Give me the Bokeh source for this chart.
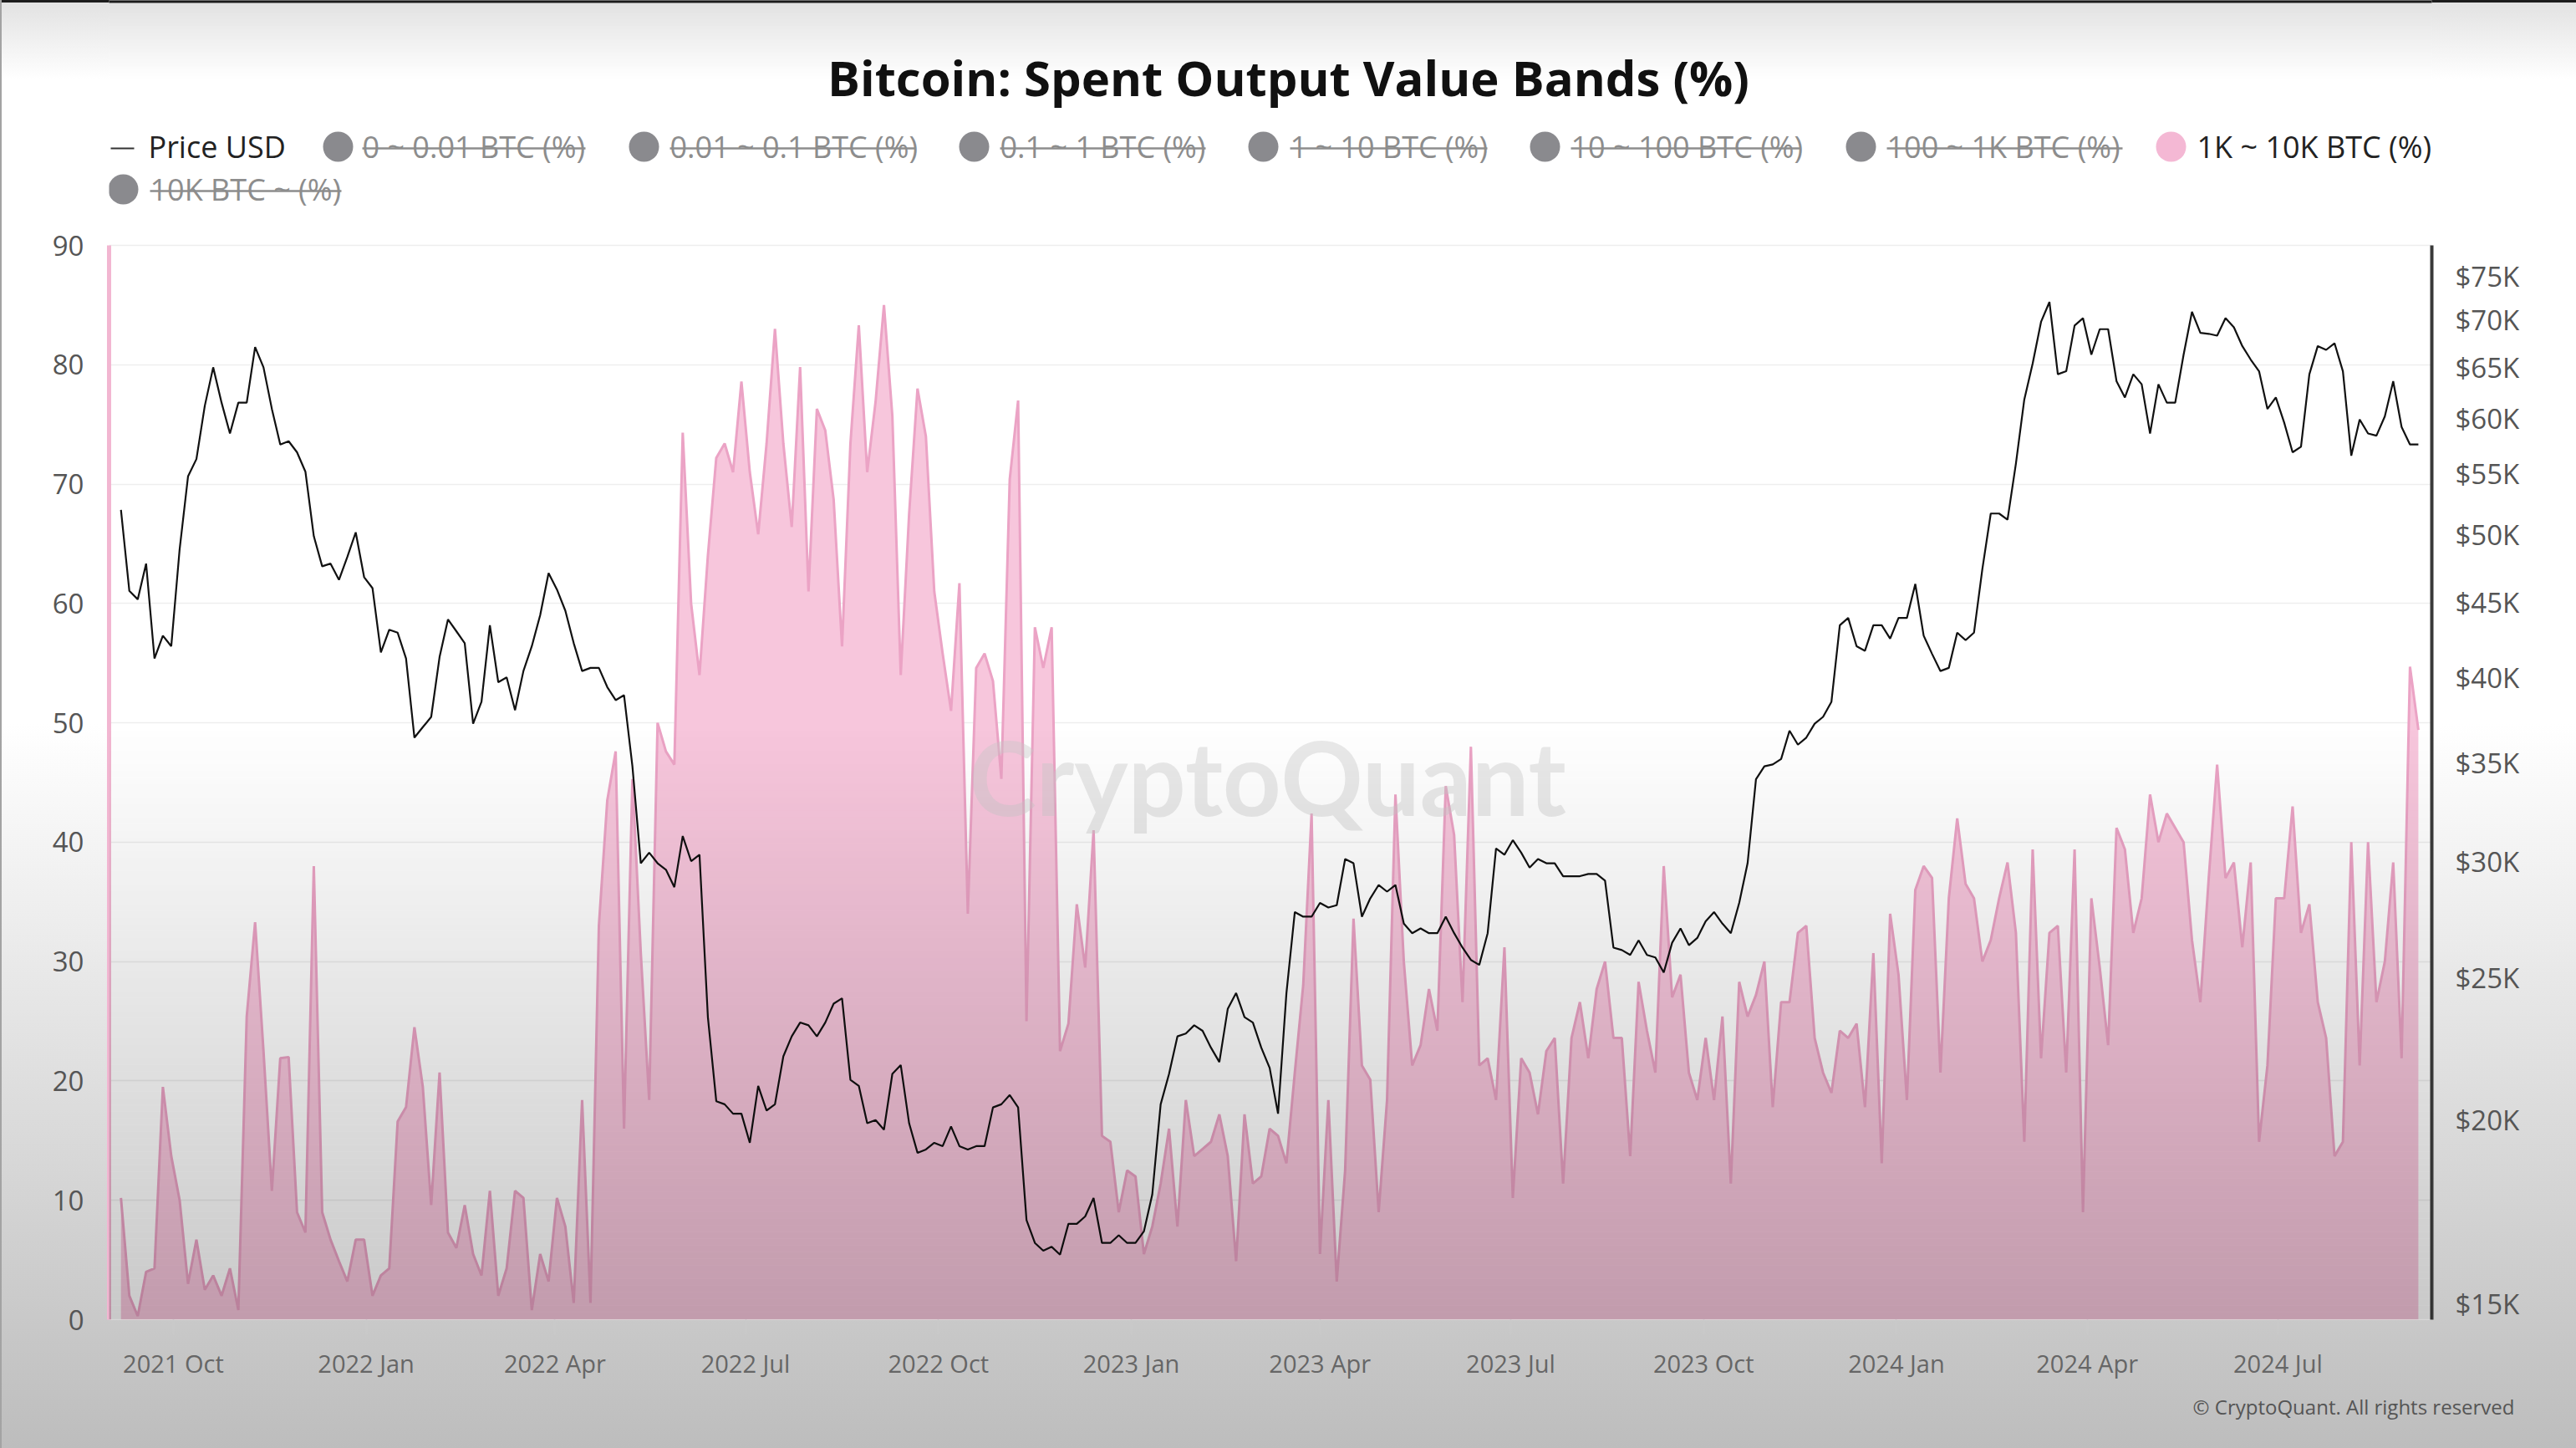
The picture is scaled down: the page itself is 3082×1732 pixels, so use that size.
import math
import pandas as pd
from datetime import datetime
from bokeh.plotting import figure
from bokeh.models import (Range1d, LogAxis, LogScale, FixedTicker, CustomJSTickFormatter,
                          DatetimeTickFormatter, BoxAnnotation, Title)
from bokeh.core.properties import value
from bokeh.embed import file_html
from bokeh.resources import INLINE

# ---------------- data (4-day sampling from 2021-09-06) ----------------
start_date = "2021-09-06"
step = "4D"

band_1k_10k = [
    10.2, 2, 0.3, 4, 4.3, 19.5, 13.7, 10, 3, 6.7,
    2.5, 3.7, 2, 4.3, 0.8, 25.4, 33.3, 22.5, 10.8, 21.9,
    22, 9, 7.3, 38, 9, 6.7, 4.9, 3.2, 6.7, 6.7,
    2, 3.7, 4.3, 16.6, 17.8, 24.5, 19.5, 9.6, 20.7, 7.3,
    6, 9.6, 5.5, 3.7, 10.8,
    2, 4.3, 10.8, 10.2, 0.8, 5.5, 3.2, 10.2, 7.8, 1.4,
    18.4, 1.4, 33, 43.5, 47.6, 16, 45.3, 30.7, 18.4, 50,
    47.6, 46.5, 74.3, 60, 54, 64, 72.2, 73.4, 71, 78.6,
    71, 65.8, 73.4, 83, 73.4, 66.4, 79.8, 61, 76.3, 74.5,
    68.7, 56.4, 73.4, 83.3, 71, 76.9, 85,
    75.7, 54, 67.5, 78, 74, 61, 55.8, 51, 61.7, 34,
    54.6, 55.8, 53.5, 45.3, 70.4, 77, 25, 58, 54.6, 58,
    22.5, 24.8, 34.8, 29.5, 41, 15.4, 14.9, 9, 12.5, 12,
    5.5, 7.8, 11.4, 16, 7.8, 18.4, 13.7, 14.3, 14.9, 17.2,
    13.7, 4.9, 17.2, 11.4, 12, 16,
    15.4, 13.1, 20.7, 28, 42.4, 5.5, 18.4, 3.2, 12.5, 33.6,
    21.3, 20.1, 9, 18.4, 44, 30, 21.3, 23, 27.7, 24.2,
    44.7, 40.6, 26.6, 48, 21.3, 21.9, 18.4, 31.2, 10.2, 21.9,
    20.7, 17.2, 22.5, 23.6, 11.4, 23.6, 26.6, 21.9, 27.7, 30,
    23.6, 23.6, 13.7, 28.3, 24.2, 20.7,
    38, 27, 28.9, 20.7, 18.4, 23.6, 18.4, 25.4, 11.4, 28.3,
    25.4, 27.2, 30, 17.8, 26.6, 26.6, 32.4, 33, 23.6, 20.7,
    19, 24.2, 23.6, 24.8, 17.8, 30.7, 13.1, 34, 28.9, 18.4,
    36, 38, 37, 20.7, 35.3, 42, 36.5, 35.3, 30, 31.8,
    35.3, 38.3, 32.4, 14.9, 39.4, 21.9, 32.4,
    33, 20.7, 39.4, 9, 35.3, 29.5, 23, 41.2, 39.4, 32.4,
    35.3, 44, 40, 42.4, 41.2, 40, 31.8, 26.6, 37, 46.5,
    37, 38.3, 31.2, 38.3, 14.9, 21.3, 35.3, 35.3, 43, 32.4,
    34.8, 26.6, 23.6, 13.7, 14.9, 40, 21.3, 40, 26.6, 30,
    38.3, 21.9, 54.7, 49.4,
]

price_usd_k = [
    52.0, 45.8, 45.2, 47.8, 41.2, 42.7, 42.0, 48.9, 54.8, 56.3,
    61.2, 65.0, 61.5, 58.6, 61.5, 61.5, 67.1, 65.0, 60.9, 57.6,
    57.9, 56.9, 55.2, 49.9, 47.6, 47.8, 46.6, 48.3, 50.2, 46.8,
    46.0, 41.6, 43.1, 42.9, 41.2, 36.4, 37.0, 37.6, 41.3, 43.8,
    43.0, 42.2, 37.2, 38.5, 43.4,
    39.7, 40.0, 38.0, 40.4, 42.0, 44.1, 47.1, 45.9, 44.4, 42.2,
    40.4, 40.6, 40.6, 39.4, 38.6, 38.9, 34.8, 29.9, 30.4, 29.9,
    29.6, 28.8, 31.2, 30.0, 30.3, 23.5, 20.6, 20.5, 20.2, 20.2,
    19.3, 21.1, 20.3, 20.5, 22.1, 22.8, 23.3, 23.2, 22.8, 23.3,
    24.0, 24.2, 21.3, 21.1, 19.9, 20.0, 19.7,
    21.5, 21.8, 19.9, 19.0, 19.1, 19.3, 19.2, 19.8, 19.2, 19.1,
    19.2, 19.2, 20.4, 20.5, 20.8, 20.4, 17.1, 16.5, 16.3, 16.4,
    16.2, 17.0, 17.0, 17.2, 17.7, 16.5, 16.5, 16.7, 16.5, 16.5,
    16.8, 17.8, 20.5, 21.5, 22.8, 22.9, 23.2, 23.0, 22.4, 21.9,
    23.8, 24.4, 23.5, 23.3, 22.4, 21.7,
    20.2, 24.4, 27.7, 27.5, 27.5, 28.1, 27.9, 28.0, 30.1, 29.9,
    27.5, 28.3, 28.9, 28.6, 28.9, 27.2, 26.8, 27.0, 26.8, 26.8,
    27.5, 26.8, 26.2, 25.7, 25.5, 26.8, 30.6, 30.3, 31.0, 30.4,
    29.7, 30.1, 29.9, 29.9, 29.3, 29.3, 29.3, 29.4, 29.4, 29.1,
    26.2, 26.1, 25.9, 26.5, 25.9, 25.8,
    25.2, 26.4, 27.0, 26.3, 26.6, 27.3, 27.7, 27.2, 26.8, 28.1,
    29.9, 34.1, 34.8, 34.9, 35.2, 36.8, 36.0, 36.4, 37.2, 37.6,
    38.5, 43.4, 43.9, 42.0, 41.7, 43.4, 43.4, 42.5, 43.9, 43.9,
    46.3, 42.7, 41.5, 40.4, 40.6, 42.9, 42.4, 42.9, 47.4, 51.7,
    51.7, 51.2, 55.9, 61.8, 65.4, 69.8, 72.0,
    64.3, 64.6, 69.4, 70.2, 66.3, 69.0, 69.0, 63.6, 62.0, 64.3,
    63.3, 58.6, 63.3, 61.5, 61.5, 66.3, 70.9, 68.6, 68.5, 68.3,
    70.2, 69.2, 67.2, 65.8, 64.6, 60.9, 62.0, 59.6, 56.9, 57.4,
    64.3, 67.2, 66.8, 67.5, 64.6, 56.6, 59.9, 58.6, 58.4, 60.2,
    63.6, 59.2, 57.6, 57.6,
]

left_ticks = [0, 10, 20, 30, 40, 50, 60, 70, 80, 90]
price_ticks = [15000, 20000, 25000, 30000, 35000, 40000, 45000, 50000, 55000, 60000, 65000, 70000, 75000]
quarter_ticks = ["2021-10-01", "2022-01-01", "2022-04-01", "2022-07-01", "2022-10-01", "2023-01-01",
                 "2023-04-01", "2023-07-01", "2023-10-01", "2024-01-01", "2024-04-01", "2024-07-01"]

title_text = "Bitcoin: Spent Output Value Bands (%)"
legend_labels = ["Price USD", "0 ~ 0.01 BTC (%)", "0.01 ~ 0.1 BTC (%)", "0.1 ~ 1 BTC (%)",
                 "1 ~ 10 BTC (%)", "10 ~ 100 BTC (%)", "100 ~ 1K BTC (%)", "1K ~ 10K BTC (%)",
                 "10K BTC ~ (%)"]
legend_hidden = [False, True, True, True, True, True, True, False, True]
watermark_text = "CryptoQuant"
copyright_text = "\u00a9 CryptoQuant. All rights reserved"

assert len(band_1k_10k) == len(price_usd_k)
dates = pd.date_range(start_date, periods=len(band_1k_10k), freq=step)
price_usd = [v * 1000 for v in price_usd_k]

# ---------------- layout constants (page pixels) ----------------
W, H = 3082, 1732
FONT = "Open Sans"
FR_L, FR_R, FR_B = 130, 2909, 1578       # frame left / right / bottom; frame top = page top
PLOT_TOP = 293                           # where the value 90 sits
PX_PER_UNIT = (FR_B - PLOT_TOP) / 90.0
LOG_Y15, LOG_PX = 1559, 763.9           # $15K position and px per ln-unit of the price axis

left_top_val = FR_B / PX_PER_UNIT
price_lo = 15000 * math.exp(-(FR_B - LOG_Y15) / LOG_PX)
price_hi = 15000 * math.exp(LOG_Y15 / LOG_PX)
price_at_90 = 15000 * math.exp((LOG_Y15 - PLOT_TOP) / LOG_PX)

def shade_alpha(page_y):
    return max(0.0, 0.26 * (page_y - 865) / 867)

def cbox(l, r, t, b, color, alpha=1.0):
    return BoxAnnotation(left=l, right=r, top=t, bottom=b,
                         left_units="canvas", right_units="canvas", top_units="canvas", bottom_units="canvas",
                         fill_color=color, fill_alpha=alpha, line_color=None, level="overlay")

# ---------------- figure ----------------
p = figure(width=W, height=H, x_axis_type="datetime",
           x_range=Range1d(datetime(2021, 8, 31, 8), datetime(2024, 9, 12, 10)),
           y_range=Range1d(0, left_top_val), toolbar_location=None, output_backend="svg",
           min_border_left=FR_L, min_border_right=W - FR_R, min_border_top=0,
           min_border_bottom=H - FR_B)
p.title.visible = False
p.outline_line_color = None
p.background_fill_color = "white"
p.border_fill_color = None
p.styles = {"background": "linear-gradient(to bottom, #1c1c1c 0px, #1c1c1c 3px, #e2e2e2 3px, "
                          "#ffffff 95px, #ffffff 865px, #bdbdbd 1732px)",
            "box-shadow": "inset 2px 0 0 #a3a3a3"}
p.extra_y_ranges = {"price": Range1d(price_lo, price_hi), "py": Range1d(FR_B, 0)}
p.extra_y_scales = {"price": LogScale()}
p.extra_x_ranges = {"px": Range1d(FR_L, FR_R)}

p.xgrid.visible = False
p.ygrid.grid_line_color = "#eeeeee"
p.ygrid.grid_line_width = 1.5
p.ygrid.ticker = FixedTicker(ticks=left_ticks)

yl = p.left[0]
yl.ticker = FixedTicker(ticks=left_ticks)
yl.bounds = (0, 90)
yl.axis_line_color = "#f2b6d1"
yl.axis_line_width = 5
yl.major_tick_line_color = None
yl.minor_tick_line_color = None
yl.major_tick_out = 0
yl.major_tick_in = 0
yl.major_label_standoff = 30
yl.major_label_text_font = FONT
yl.major_label_text_font_size = "33px"
yl.major_label_text_color = "#555555"

xa = p.below[0]
xa.ticker = FixedTicker(ticks=[pd.Timestamp(t).value / 1e6 for t in quarter_ticks])
xa.formatter = DatetimeTickFormatter(days="%Y %b", months="%Y %b", years="%Y %b")
xa.axis_line_color = None
xa.major_tick_line_color = "#c9c9c9"
xa.major_tick_line_width = 1.5
xa.major_tick_out = 18
xa.major_tick_in = 0
xa.minor_tick_line_color = None
xa.major_label_standoff = 14
xa.major_label_text_font = FONT
xa.major_label_text_font_size = "29px"
xa.major_label_text_color = "#666666"

ra = LogAxis(y_range_name="price", ticker=FixedTicker(ticks=price_ticks),
             formatter=CustomJSTickFormatter(code="return '$' + (tick/1000).toFixed(0) + 'K';"))
ra.bounds = (price_lo, price_at_90)
ra.axis_line_color = "#3a3a3a"
ra.axis_line_width = 4
ra.major_tick_line_color = None
ra.minor_tick_line_color = None
ra.major_tick_out = 0
ra.major_tick_in = 0
ra.major_label_standoff = 28
ra.major_label_text_font = FONT
ra.major_label_text_font_size = "33px"
ra.major_label_text_color = "#555555"
p.add_layout(ra, "right")

cp = Title(text=copyright_text, align="right", text_font=FONT, text_font_size="24px",
           text_font_style="normal", text_color="#555555", standoff=22, offset=-99)
p.add_layout(cp, "below")

# ---------------- series ----------------
p.varea(x=dates, y1=0, y2=band_1k_10k, fill_color="#f7c6dc")
p.line(dates, band_1k_10k, line_color="#eba3c5", line_width=3)

wm_x = pd.Timestamp("2023-03-07").value / 1e6
p.text(x=[wm_x], y=[45.5], text=[watermark_text], text_font=value("Lato"), text_font_style="bold",
       text_font_size="122px", text_align="center", text_baseline="middle",
       text_color="#c8c8c8", text_alpha=0.4)

p.line(dates, price_usd, y_range_name="price", line_color="#111111", line_width=2.2)

# ---------------- frame shading (matches the page gradient) ----------------
p.add_layout(cbox(0, W, 0, 3, "#1c1c1c"))
for k in range(3, 95, 4):
    p.add_layout(cbox(0, W, k, k + 4, "black", 0.113 * (95 - k - 2) / 92))
for k in range(865, FR_B, 8):
    p.add_layout(cbox(0, W, k, min(k + 8, FR_B), "black", shade_alpha(k + 4)))

# ---------------- title + legend (page-pixel ranges inside the frame) ----------------
p.text(x=[1541], y=[92], text=[title_text], x_range_name="px", y_range_name="py",
       text_font=value(FONT), text_font_style="bold", text_font_size="58px",
       text_align="center", text_baseline="middle", text_color="#111111")

leg_marker_x = [146, 404, 770, 1165, 1511, 1848, 2226, 2597, 147]
leg_text_x = [177, 433, 801, 1196, 1543, 1879, 2257, 2628, 179]
leg_text_w = [161, 267, 294, 246, 236, 274, 282, 281, 229]
leg_y = [175, 175, 175, 175, 175, 175, 175, 175, 226]

for lab, hid, mx, tx, tw, ly in zip(legend_labels, legend_hidden, leg_marker_x, leg_text_x, leg_text_w, leg_y):
    if lab == "Price USD":
        p.segment(x0=[mx - 14], y0=[ly + 2], x1=[mx + 14], y1=[ly + 2], x_range_name="px", y_range_name="py",
                  line_color="#333333", line_width=2)
    else:
        p.scatter(x=[mx], y=[ly], x_range_name="px", y_range_name="py", size=36, marker="circle",
                  fill_color="#8a8a8e" if hid else "#f4b8d4", line_color=None)
    p.text(x=[tx], y=[ly], text=[lab], x_range_name="px", y_range_name="py",
           text_font=value(FONT), text_font_size="36px", text_align="left", text_baseline="middle",
           text_color="#8d8d8d" if hid else "#222222")
    if hid:
        p.segment(x0=[tx], y0=[ly + 2], x1=[tx + tw], y1=[ly + 2], x_range_name="px", y_range_name="py",
                  line_color="#8d8d8d", line_width=2.5)

open("out.html", "w").write(file_html(p, INLINE))
